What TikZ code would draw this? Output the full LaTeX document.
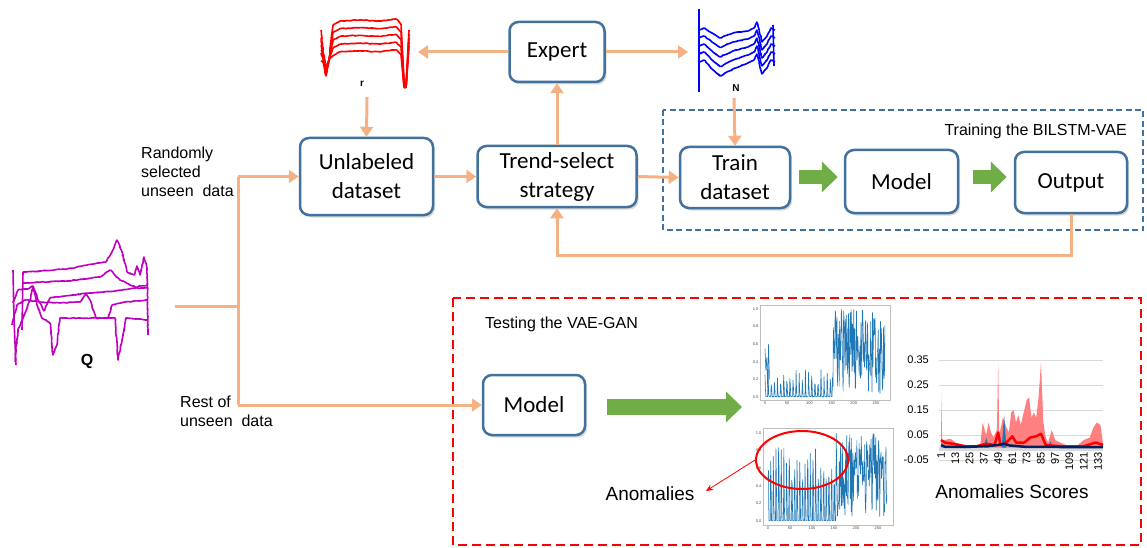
\documentclass[tikz,border=0pt]{standalone}
\usepackage{fontspec}
\setmainfont{Liberation Sans}
\newfontfamily\boxfont{Carlito}
\usetikzlibrary{arrows.meta,shadows,calc,decorations.pathmorphing,shapes.geometric}
\definecolor{boxblue}{RGB}{65,113,156}
\definecolor{flowor}{RGB}{244,177,131}
\definecolor{grn}{RGB}{112,173,71}
\definecolor{magq}{RGB}{192,0,192}
\definecolor{tsblue}{RGB}{31,119,180}
\definecolor{navyc}{RGB}{0,32,96}
\definecolor{gridg}{RGB}{217,217,217}
\definecolor{framg}{RGB}{190,190,190}
\definecolor{pinkf}{RGB}{255,128,128}
\begin{document}
\begin{tikzpicture}[x=1pt,y=-1pt,
  box/.style={draw=boxblue, line width=2.5pt, rounded corners=9pt, fill=white,
    align=center, inner sep=0pt, font=\boxfont\fontsize{23}{29}\selectfont,
    drop shadow={opacity=0.3, shadow xshift=2pt, shadow yshift=-2.5pt}},
  flow/.style={draw=flowor, line width=3pt, -{Triangle[length=10pt,width=13pt]}},
  garrow/.style={draw=grn, line width=#1, -{Triangle[length=16pt,width=30pt]}},
  lab/.style={font=\fontsize{16}{19}\selectfont, inner sep=0pt, align=left},
  tiny/.style={font=\fontsize{4}{4}\selectfont, inner sep=0.5pt, text=black!70},
  axl/.style={font=\fontsize{11}{12}\selectfont, inner sep=0pt},
  jit/.style={decorate, decoration={random steps, segment length=1.5pt, amplitude=0.5pt}},
  curve/.style={line width=1.6pt, line join=round, rounded corners=1pt}
]
\useasboundingbox (0,0) rectangle (1147,548);
\pgfmathsetseed{4242}

% ---------- dashed frames ----------
\draw[boxblue, line width=2.5pt, dash pattern=on 6pt off 3.5pt] (663,110) rectangle (1143,230);
\node[lab, anchor=east] (trainlab) at (1127,131) {Training the BILSTM-VAE};
\draw[red, line width=2.5pt, dash pattern=on 9pt off 5pt] (453,298) rectangle (1141,545);
\node[lab, anchor=west] (testlab) at (485,324) {Testing the VAE-GAN};

% ---------- boxes ----------
\node[box, minimum width=95pt, minimum height=60pt] (expert) at (557,52) {Expert};
\node[box, minimum width=133pt, minimum height=77pt] (unl) at (366.5,176.5) {Unlabeled\\dataset};
\node[box, minimum width=159pt, minimum height=61pt] (trend) at (557,176.5) {Trend-select\\strategy};
\node[box, minimum width=110pt, minimum height=61pt] (train) at (735,177.5) {Train\\dataset};
\node[box, minimum width=113pt, minimum height=63pt] (model1) at (901.5,181.5) {Model};
\node[box, minimum width=112pt, minimum height=61pt] (output) at (1071,182.5) {Output};
\node[box, minimum width=102pt, minimum height=60pt] (model2) at (534,405) {Model};

% ---------- small curves: r (red) ----------
\foreach \k in {0,...,4}{
  \pgfmathsetmacro{\yy}{21+7.7*\k}
  \draw[red, curve, jit] (321,\yy+9) -- (323,50+3*\k) -- (326,68+2*\k) -- (329,60) -- (333,\yy+4) -- (340,\yy)
     -- (360,\yy-1) -- (380,\yy) -- (396,\yy-2) -- (401,\yy+3);
  \draw[red, curve] (401,\yy+3) -- (404,80+2*\k) -- (406,88) -- (409,30+4*\k);
}
\node[font=\fontsize{10}{10}\selectfont\bfseries, inner sep=0pt] (rlab) at (362,84) {r};
\coordinate (rin) at (418,52);
\coordinate (rout) at (367,97);

% ---------- small curves: N (blue) ----------
\draw[blue, line width=1.6pt] (699,9) -- (699,92);
\foreach \k in {0,...,4}{
  \pgfmathsetmacro{\o}{8*\k}
  \draw[blue, curve, jit] (699,{30+\o}) -- (704,{28+\o}) -- (712,{33+\o+\k}) -- (720,{38+\o+1.5*\k})
     -- (733,{33+\o+\k}) -- (748,{31+\o}) -- (754,{28+\o}) -- (757,{22+\o}) -- (762,{42+\o})
     -- (767,{36+\o}) -- (771,{28+\o}) -- (775,{30+\o});
}
\draw[blue, line width=1.6pt] (773,25) -- (774,66);
\node[font=\fontsize{10}{10}\selectfont\bfseries, inner sep=0pt] (nlab) at (736,88) {N};
\coordinate (nin) at (688,52);
\coordinate (nout) at (734,98);

% ---------- Q (magenta) ----------
\begin{scope}[magq]
\draw[curve, jit] (23,272) -- (40,271) -- (67,269) -- (93,264) -- (106,262) -- (112,252) -- (117,240)
  -- (122,252) -- (127,272) -- (134,275) -- (137,266) -- (140,275) -- (144,257) -- (147,268) -- (148,335);
\draw[curve, jit] (23,283) -- (67,281) -- (100,277) -- (110,270) -- (120,280) -- (135,287) -- (148,285);
\draw[curve, jit] (13,303) -- (18,290) -- (28,289) -- (33,286) -- (38,300) -- (44,311) -- (50,298)
  -- (65,296) -- (90,293) -- (115,291) -- (135,288) -- (148,288);
\draw[curve, jit] (12,325) -- (17,305) -- (25,300) -- (40,302) -- (60,303) -- (80,302) -- (86,294)
  -- (90,300) -- (96,318) -- (108,318) -- (112,305) -- (125,302) -- (148,300);
\draw[curve, jit] (15,362) -- (18,330) -- (23,318) -- (30,300) -- (33,287) -- (37,305) -- (42,318)
  -- (50,323) -- (53,355) -- (57,345) -- (60,318) -- (80,318) -- (100,318) -- (115,318) -- (118,360)
  -- (122,340) -- (126,318) -- (148,320);
\draw[curve] (13,270) -- (14,320) -- (16,365);
\draw[curve] (23,272) -- (22,330);
\end{scope}
\node[font=\fontsize{16}{16}\selectfont\bfseries, inner sep=0pt] (qlab) at (87,361) {Q};
\coordinate (qout) at (175,306);
\coordinate (split) at (238,306);
\coordinate (upc) at (238,176.5);
\coordinate (dnc) at (238,405);

% ---------- labels ----------
\node[lab, anchor=west] (randlab) at (141,172) {Randomly\\selected\\unseen~~data};
\node[lab, anchor=west] (restlab) at (180,411) {Rest of\\unseen~~data};

% ---------- orange connectors ----------
\draw[flowor, line width=3pt] (qout) -- (split);
\draw[flowor, line width=3pt] (upc) -- (dnc);
\draw[flow] (upc) -- (unl.west);
\draw[flow] (dnc) -- (model2.west);
\draw[flow] (rout) -- (unl.north);
\draw[flow] (nout) -- (train.north);
\draw[flow] (expert.west) -- (rin);
\draw[flow] (expert.east) -- (nin);
\draw[flow] (trend.north) -- (expert.south);
\draw[flow] (unl.east) -- (trend.west);
\draw[flow] (trend.east) -- (train.west);
\coordinate (fb) at (557,255);
\draw[flow] (output.south) |- (fb) -- (trend.south);

% ---------- green arrows ----------
\draw[garrow=13pt] ($(train.east)+(8,-0.5)$) -- ($(model1.west)+(-6,-4.5)$);
\draw[garrow=13pt] ($(model1.east)+(14,-4.5)$) -- ($(output.west)+(-7,-5.5)$);
\draw[garrow=16pt] ($(model2.east)+(21,2)$) -- (742,407);

% ---------- time series plot (top) ----------
\draw[framg, line width=0.8pt] (760,305) rectangle (890,400);
\begin{scope}[shift={(765,397)}, x=0.444pt, y=88pt]
  \draw[tsblue, line width=0.6pt, line join=round] plot[domain=0:270, samples=271]
   (\x, {(\x<152) ? ((mod(round(\x),7)==0) ? (0.12+0.28*rnd) : ((mod(round(\x),7)==1) ? (0.05+0.1*rnd) : (0.01*rnd))) : (rnd^0.7)});
  \draw[tsblue, line width=0.6pt] (0,0.55) -- (2,0.3) -- (4,0.45) -- (6,0.1) -- (8,0.6) -- (10,0.2);
\end{scope}
\foreach \v/\t in {0/0.0,1/0.2,2/0.4,3/0.6,4/0.8,5/1.0}{
  \node[tiny, anchor=east] at (759,{397-17.6*\v}) {\t};}
\foreach \v in {0,50,100,150,200,250}{
  \node[tiny, anchor=north] at ({765+0.444*\v},401) {\v};}

% ---------- time series plot (bottom) ----------
\draw[framg, line width=0.8pt] (763,428) rectangle (893,525);
\begin{scope}[shift={(768,521)}, x=0.44pt, y=88pt]
  \draw[tsblue, line width=0.6pt, line join=round] plot[domain=0:270, samples=271]
   (\x, {(\x<155) ? ((mod(round(\x),6)==0) ? (0.35+0.5*rnd) : ((mod(round(\x),6)==1) ? (0.2+0.4*rnd) : (0.005))) : (0.05+0.95*rnd)});
\end{scope}
\foreach \v/\t in {0/0.0,1/0.2,2/0.4,3/0.6,4/0.8,5/1.0}{
  \node[tiny, anchor=east] at (762,{521-17.6*\v}) {\t};}
\foreach \v in {0,50,100,150,200,250}{
  \node[tiny, anchor=north] at ({768+0.44*\v},526) {\v};}

% ---------- anomalies ----------
\node[draw=red, line width=2pt, ellipse, minimum width=92pt, minimum height=58pt, inner sep=0pt] (ell) at (802,460) {};
\node[font=\fontsize{19}{20}\selectfont, inner sep=0pt] (anom) at (650,494) {Anomalies};
\draw[red, line width=0.8pt, -{Stealth[length=7pt,width=6pt]}] (ell.west) -- (706,491);

% ---------- anomaly scores chart ----------
\foreach \y in {360,385,410,435,460}{
  \draw[gridg, line width=0.8pt] (939,\y) -- (1103,\y);}
\foreach \y/\t in {360/0.35,385/0.25,410/0.15,435/0.05,460/-0.05}{
  \node[axl, anchor=east] at (929,\y) {\t};}
\fill[gridg] (939,447) rectangle (1103,451);
\begin{scope}[shift={(941,447.5)}, x=1.19pt, y=250pt]
  \fill[pinkf] (0,0) -- (0,0.22) -- (1,0.03) -- (3,0.03) -- (8,0.035) -- (12,0.02) -- (20,0.01) -- (30,0.005)
   -- (33,0.01) -- (35,0.1) -- (38,0.05) -- (40,0.1) -- (42,0.06) -- (44,0.04) -- (47,0.07) -- (48,0.34)
   -- (49,0.05) -- (52,0.12) -- (55,0.08) -- (57,0.06) -- (59,0.14) -- (61,0.15) -- (63,0.1) -- (65,0.13)
   -- (67,0.09) -- (70,0.15) -- (72,0.19) -- (74,0.2) -- (76,0.12) -- (78,0.14) -- (80,0.12) -- (82,0.2)
   -- (84,0.34) -- (86,0.1) -- (88,0.04) -- (90,0.02) -- (93,0.07) -- (96,0.03) -- (100,0.02) -- (105,0.01)
   -- (115,0.01) -- (120,0.03) -- (125,0.04) -- (128,0.08) -- (131,0.1) -- (134,0.09) -- (136,0.02) -- (136,0) -- cycle;
  \fill[tsblue] (36,0) -- (38,0.04) -- (40,0) -- cycle;
  \fill[tsblue] (51,0) -- (53,0.13) -- (55,0) -- cycle;
  \fill[tsblue] (90,0) -- (92,0.025) -- (94,0) -- cycle;
  \draw[red, line width=2.5pt, line join=round] (0,0.03) -- (3,0.02) -- (10,0.015) -- (20,0.005) -- (30,0.005)
   -- (38,0.015) -- (45,0.01) -- (48,0.06) -- (50,0.01) -- (55,0.02) -- (60,0.045) -- (63,0.02) -- (70,0.02)
   -- (75,0.04) -- (80,0.045) -- (84,0.055) -- (88,0.01) -- (100,0.005) -- (120,0.005) -- (130,0.02) -- (136,0.01);
  \draw[navyc, line width=2.5pt, line join=round] (0,0.01) -- (3,0.003) -- (20,0.002) -- (40,0.006) -- (48,0.01)
   -- (53,0.015) -- (58,0.008) -- (70,0.003) -- (100,0.002) -- (136,0.002);
\end{scope}
\foreach \i [count=\n from 0] in {1,13,25,37,49,61,73,85,97,109,121,133}{
  \node[axl, anchor=east, rotate=90] at ({941+14.27*\n},452) {\i};}
\node[font=\fontsize{19}{20}\selectfont, inner sep=0pt] (scoreslab) at (1012,492) {Anomalies Scores};
\end{tikzpicture}
\end{document}
